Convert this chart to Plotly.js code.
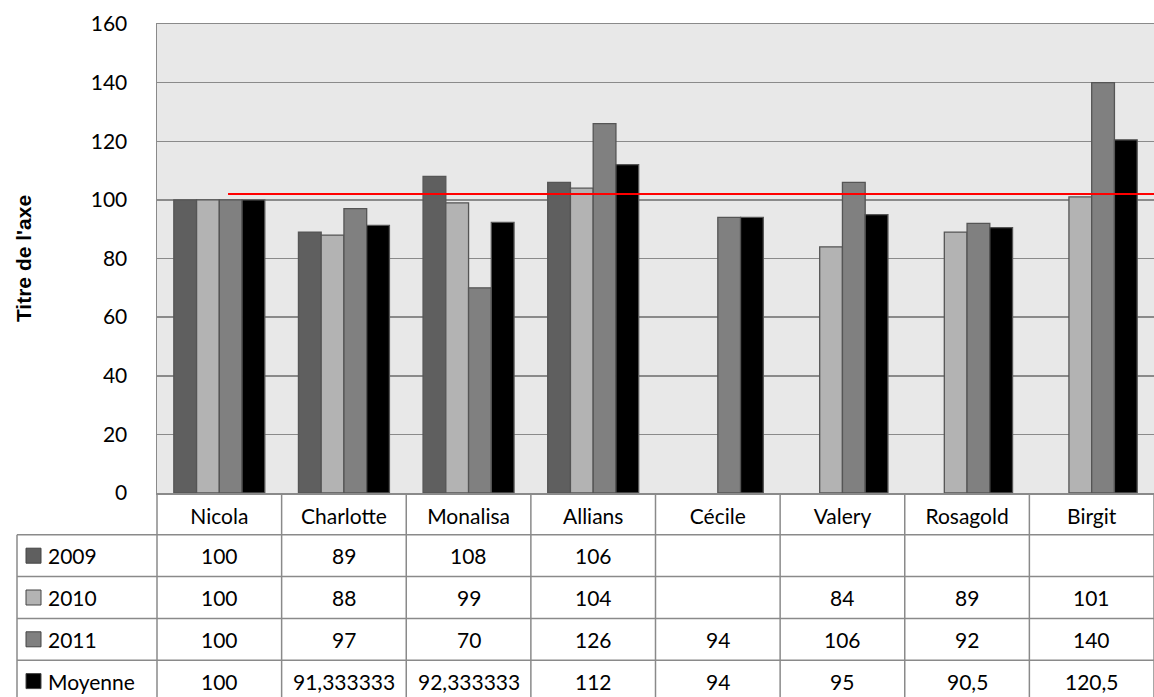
<!DOCTYPE html>
<html>
<head>
<meta charset="utf-8">
<script src="https://cdn.plot.ly/plotly-3.0.1.min.js"></script>
<style>html,body{margin:0;padding:0;background:#fff;}#chart{width:1154px;height:697px;}</style>
</head>
<body>
<div id="chart"></div>
<script>
const categories = ['Nicola','Charlotte','Monalisa','Allians','Cécile','Valery','Rosagold','Birgit'];
const seriesNames = ['2009','2010','2011','Moyenne'];
const v2009 = [100, 89, 108, 106, null, null, null, null];
const v2010 = [100, 88, 99, 104, null, 84, 89, 101];
const v2011 = [100, 97, 70, 126, 94, 106, 92, 140];
const vMoyenne = [100, 91.333333, 92.333333, 112, 94, 95, 90.5, 120.5];
const refLevel = 102;
const yTicks = [0, 20, 40, 60, 80, 100, 120, 140, 160];

const seriesValues = [v2009, v2010, v2011, vMoyenne];
const colors = ['#5f5f5f', '#b3b3b3', '#808080', '#000000'];

const W = 1154, H = 697;
const L = 157, T = 24, B = 493;
const plotW = W - L, plotH = B - T;
const nCat = categories.length;
const rowH = 41.8;
const tableLeft = 17;
const gridColor = '#8a8a8a';
const font = 'Lato, "Open Sans", sans-serif';
const fs = 21;

function px2x(px){ return (px - L) / plotW; }
function py2y(py){ return (B - py) / plotH; }

const traces = seriesValues.map((vals, k) => ({
  type: 'bar',
  name: seriesNames[k],
  x: categories,
  y: vals,
  marker: {color: colors[k], line: {color: '#555555', width: 1.3}},
  hoverinfo: 'x+y+name'
}));

const shapes = [];
const annotations = [];

shapes.push({type:'line', xref:'x', yref:'y', x0:0.07, x1:7.5, y0:refLevel, y1:refLevel,
  line:{color:'#ff0000', width:2}, layer:'above'});

const rowTops = [];
for (let r = 0; r <= 5; r++) rowTops.push(B + r * rowH);
for (let r = 1; r <= 5; r++) {
  shapes.push({type:'line', xref:'paper', yref:'paper', x0:px2x(tableLeft), x1:1,
    y0:py2y(rowTops[r]), y1:py2y(rowTops[r]), line:{color:gridColor, width:1.5}});
}
for (let i = 0; i <= nCat; i++) {
  shapes.push({type:'line', xref:'paper', yref:'paper', x0:i/nCat, x1:i/nCat,
    y0:py2y(B), y1:py2y(H+5), line:{color:gridColor, width:1.5}});
}
shapes.push({type:'line', xref:'paper', yref:'paper', x0:px2x(tableLeft), x1:px2x(tableLeft),
  y0:py2y(rowTops[1]), y1:py2y(H+5), line:{color:gridColor, width:1.5}});

seriesNames.forEach((nm, k) => {
  const cy = rowTops[k+1] + rowH/2;
  shapes.push({type:'rect', xref:'paper', yref:'paper',
    x0:px2x(26), x1:px2x(41), y0:py2y(cy+7.5), y1:py2y(cy-7.5),
    fillcolor:colors[k], line:{color:'#444444', width:1}});
  annotations.push({xref:'paper', yref:'paper', x:px2x(46), y:py2y(cy), text:nm,
    showarrow:false, xanchor:'left', yanchor:'middle', font:{family:font, size:fs, color:'#000'}});
  seriesValues[k].forEach((v, i) => {
    if (v === null) return;
    annotations.push({xref:'paper', yref:'paper', x:(i+0.5)/nCat, y:py2y(cy),
      text:String(v).replace('.', ','), showarrow:false, xanchor:'center', yanchor:'middle',
      font:{family:font, size:fs, color:'#000'}});
  });
});

const layout = {
  width: W, height: H,
  margin: {l: L, r: 0, t: T, b: H - B, pad: 0},
  paper_bgcolor: '#ffffff',
  plot_bgcolor: '#e8e8e8',
  barmode: 'group',
  bargap: 0.27,
  bargroupgap: 0,
  showlegend: false,
  font: {family: font, size: fs, color: '#000'},
  xaxis: {
    type: 'category',
    range: [-0.5, nCat - 0.5],
    showgrid: false,
    showline: true, linecolor: gridColor, linewidth: 1.5, mirror: true,
    ticks: '', ticklabelstandoff: 4,
    tickfont: {family: font, size: fs, color: '#000'},
    fixedrange: true
  },
  yaxis: {
    range: [0, 160],
    tickvals: yTicks,
    ticktext: yTicks.map(String),
    showgrid: true, gridcolor: gridColor, gridwidth: 1.5,
    zeroline: false,
    showline: true, linecolor: gridColor, linewidth: 1.5, mirror: true,
    ticks: '', ticklabelstandoff: 24,
    tickfont: {family: font, size: fs, color: '#000'},
    title: {text: "<b>Titre de l'axe</b>", font: {family: '"Liberation Sans", Arial, sans-serif', size: 21, color: '#000'}, standoff: 53},
    fixedrange: true
  },
  shapes: shapes,
  annotations: annotations
};

Plotly.newPlot('chart', traces, layout, {displayModeBar: false, staticPlot: true});
</script>
</body>
</html>
